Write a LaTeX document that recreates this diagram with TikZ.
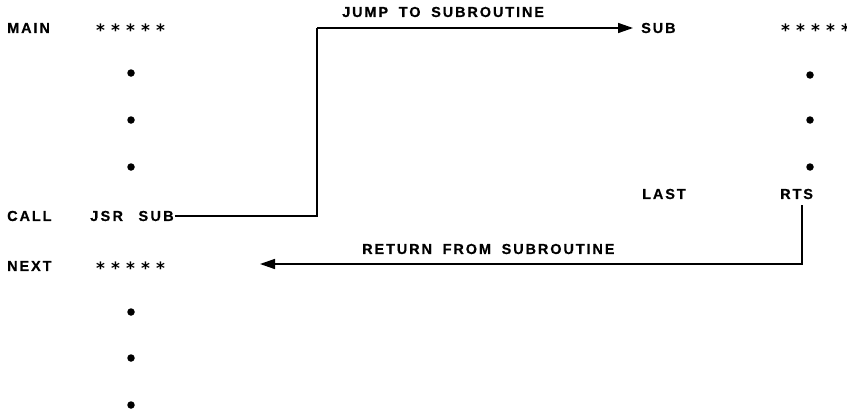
\documentclass[tikz,border=0pt]{standalone}
\usepackage{fontspec}
\setmainfont{Liberation Sans}[LetterSpace=13,WordSpace=1.8]
\newfontfamily\starfont{DejaVu Sans}[LetterSpace=36]
\usetikzlibrary{arrows.meta}
\begin{document}
\begin{tikzpicture}[x=1pt,y=-1pt,
  lbl/.style={anchor=west,inner sep=0pt,font=\fontsize{14.5}{16}\selectfont\bfseries\addfontfeature{FakeBold=0.4}},
  widelbl/.style={lbl,font=\fontsize{14.5}{16}\selectfont\bfseries\addfontfeature{FakeBold=0.4,LetterSpace=16}},
  stars/.style={anchor=west,inner sep=0pt,font=\fontsize{17}{18}\starfont\bfseries},
  dot/.style={circle,fill=black,inner sep=0pt,minimum size=7.5pt},
  conn/.style={line width=1.5pt},
  arr/.style={conn,-{Triangle[length=15pt,width=10pt]}}]
\useasboundingbox (0,0) rectangle (847,415);
% main program
\node[lbl] (main) at (7,28) {MAIN};
\node[stars] (mainstars) at (96,30) {*****};
\node[dot] (d1) at (131,73) {};
\node[dot] (d2) at (131,120) {};
\node[dot] (d3) at (131,167) {};
\node[lbl] (call) at (7,216) {CALL};
\node[widelbl] (jsr) at (90,216) {JSR\hspace{4pt} SUB};
\node[lbl] (next) at (7,266) {NEXT};
\node[stars] (nextstars) at (96,268) {*****};
\node[dot] (d4) at (131,312) {};
\node[dot] (d5) at (131,358) {};
\node[dot] (d6) at (131,405) {};
% subroutine
\node[lbl] (sub) at (641,28) {SUB};
\node[stars] (substars) at (781,30) {*****};
\node[dot] (r1) at (810,75) {};
\node[dot] (r2) at (810,120) {};
\node[dot] (r3) at (810,167) {};
\node[lbl] (last) at (642,194) {LAST};
\node[lbl] (rts) at (780,194) {RTS};
% labels
\node[lbl] (jumplbl) at (342,12) {JUMP TO SUBROUTINE};
\node[lbl] (retlbl) at (362,249) {RETURN FROM SUBROUTINE};
% connectors
\coordinate (bend) at (317,28);
\coordinate (subtip) at (633,28);
\coordinate (retdown) at (802,205);
\coordinate (rettip) at (260,264);
\draw[conn] ([xshift=1pt]jsr.east) -| (bend);
\draw[arr] (bend) -- (subtip);
\draw[arr] (retdown) |- (rettip);
\end{tikzpicture}
\end{document}
